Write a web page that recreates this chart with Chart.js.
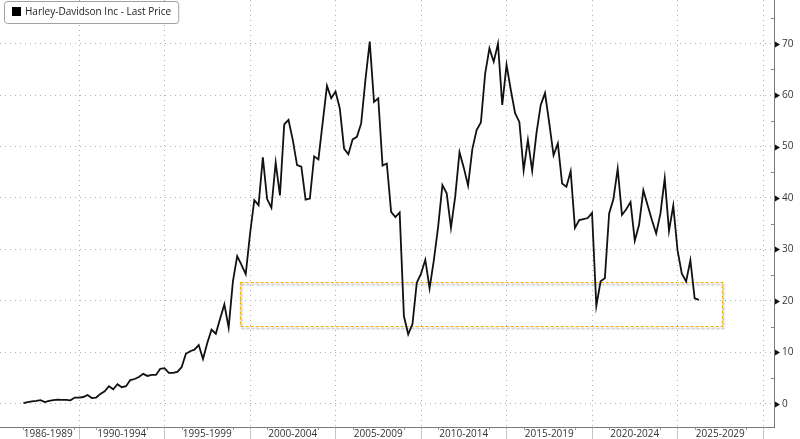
<!DOCTYPE html>
<html>
<head>
<meta charset="utf-8">
<script src="https://cdn.jsdelivr.net/npm/chart.js@4.4.1/dist/chart.umd.min.js"></script>
<style>
  html, body { margin: 0; padding: 0; background: #fff; }
  canvas { display: block; }
</style>
</head>
<body>
<canvas id="priceChart" width="800" height="439"></canvas>
<script>
const seriesName = 'Harley-Davidson Inc - Last Price';

// quarter-end prices, first point is Q3 1986
const firstQuarter = 1986.75;
const prices = [
  0.1,
  0.3, 0.45, 0.55, 0.7,      // 1987
  0.3, 0.55, 0.7, 0.8,       // 1988
  0.75, 0.75, 0.65, 1.2,     // 1989
  1.2, 1.3, 1.7, 1.1,        // 1990
  1.2, 1.9, 2.4, 3.4,        // 1991
  2.8, 3.8, 3.2, 3.4,        // 1992
  4.6, 4.8, 5.2, 5.8,        // 1993
  5.4, 5.6, 5.6, 6.8,        // 1994
  6.9, 6.0, 6.0, 6.2,        // 1995
  7.1, 9.7, 10.2, 10.5,      // 1996
  11.4, 8.7, 11.8, 14.4,     // 1997
  13.6, 16.5, 19.3, 14.8,    // 1998
  23.8, 28.7, 27.0, 25.2,    // 1999
  33.0, 39.6, 38.6, 47.9,    // 2000
  39.8, 38.1, 46.9, 40.5,    // 2001
  54.3, 55.2, 51.3, 46.4,    // 2002
  46.1, 39.7, 39.9, 48.1,    // 2003
  47.5, 54.7, 61.8, 59.4,    // 2004
  60.7, 57.4, 49.6, 48.5,    // 2005
  51.4, 51.9, 54.5, 63.0,    // 2006
  70.4, 58.7, 59.4, 46.3,    // 2007
  46.7, 37.3, 36.3, 37.2,    // 2008
  17.0, 13.5, 15.5, 23.5,    // 2009
  25.3, 28.0, 22.4, 27.9,    // 2010
  34.4, 42.5, 40.9, 34.2,    // 2011
  40.3, 48.9, 45.9, 42.4,    // 2012
  49.5, 53.2, 54.7, 64.2,    // 2013
  69.1, 66.5, 70.0, 58.1,    // 2014
  65.9, 61.0, 56.5, 54.8,    // 2015
  45.4, 51.3, 45.3, 52.6,    // 2016
  58.1, 60.4, 54.5, 48.3,    // 2017
  50.6, 42.8, 42.2, 45.2,    // 2018
  34.2, 35.7, 35.9, 36.1,    // 2019
  37.1, 19.0, 23.8, 24.4,    // 2020
  37.0, 39.8, 45.7, 36.7,    // 2021
  37.8, 39.2, 31.7, 34.8,    // 2022
  41.5, 38.6, 35.7, 33.1,    // 2023
  37.0, 43.8, 33.6, 38.5,    // 2024
  29.8, 25.3, 23.8, 27.9,    // 2025
  20.5, 20.2
];

const periodLabels = ['1986-1989', '1990-1994', '1995-1999', '2000-2004', '2005-2009',
  '2010-2014', '2015-2019', '2020-2024', '2025-2029'];
const periodCenters = [1988.2, 1992.5, 1997.5, 2002.5, 2007.5, 2012.5, 2017.5, 2022.5, 2027.5];
const periodBreaks = [1990, 1995, 2000, 2005, 2010, 2015, 2020, 2025, 2030];
const priceTicks = [0, 10, 20, 30, 40, 50, 60, 70];

// yellow dashed box (years / price)
const highlightBox = { fromYear: 1999.4, toYear: 2027.6, low: 15.1, high: 23.6 };

const FONT = '"Open Sans", sans-serif';
Chart.defaults.font.family = FONT;
Chart.defaults.font.size = 10;
Chart.defaults.color = '#333';

const points = prices.map((p, i) => ({ x: firstQuarter + i * 0.25, y: p }));

const isBreak = (v) => periodBreaks.includes(v);

const extras = {
  id: 'extras',
  beforeDatasetsDraw(chart) {
    const { ctx, scales: { x, y } } = chart;
    const x0 = Math.round(x.getPixelForValue(highlightBox.fromYear)) + 0.5;
    const x1 = Math.round(x.getPixelForValue(highlightBox.toYear)) + 0.5;
    const y0 = Math.round(y.getPixelForValue(highlightBox.high)) + 0.5;
    const y1 = Math.round(y.getPixelForValue(highlightBox.low)) + 0.5;
    ctx.save();
    ctx.setLineDash([3, 2]);
    ctx.lineWidth = 1.2;
    ctx.strokeStyle = '#f5b000';
    ctx.shadowColor = 'rgba(0,0,0,0.45)';
    ctx.shadowBlur = 2;
    ctx.shadowOffsetX = 1;
    ctx.shadowOffsetY = 2;
    ctx.strokeRect(x0, y0, x1 - x0, y1 - y0);
    ctx.restore();
  },
  afterDraw(chart) {
    const { ctx, chartArea: area, scales: { x, y } } = chart;
    ctx.save();

    // right axis: arrow markers on major ticks, small ticks in between
    ctx.fillStyle = '#111';
    priceTicks.forEach(v => {
      const py = Math.round(y.getPixelForValue(v)) + 0.5;
      ctx.beginPath();
      ctx.moveTo(area.right + 1, py - 3);
      ctx.lineTo(area.right + 6, py);
      ctx.lineTo(area.right + 1, py + 3);
      ctx.closePath();
      ctx.fill();
    });
    ctx.strokeStyle = '#888';
    ctx.lineWidth = 1;
    priceTicks.forEach(v => {
      const py = Math.round(y.getPixelForValue(v + 5)) + 0.5;
      if (py < area.top) return;
      ctx.beginPath();
      ctx.moveTo(area.right - 3, py);
      ctx.lineTo(area.right, py);
      ctx.stroke();
    });

    // little marks at the ends of each period label
    ctx.font = '10px ' + FONT;
    ctx.strokeStyle = '#999';
    periodCenters.forEach((c, i) => {
      const px = x.getPixelForValue(c);
      const w = ctx.measureText(periodLabels[i]).width;
      [px - w / 2 - 1, px + w / 2 + 1].forEach(tx => {
        const ax = Math.round(tx) + 0.5;
        ctx.beginPath();
        ctx.moveTo(ax, area.bottom + 1);
        ctx.lineTo(ax, area.bottom + 3);
        ctx.stroke();
      });
    });

    // legend box
    const tw = ctx.measureText(seriesName).width;
    ctx.beginPath();
    ctx.roundRect(4.5, 1.5, tw + 28, 22, 3);
    ctx.fillStyle = '#fff';
    ctx.fill();
    ctx.strokeStyle = '#a0a0a0';
    ctx.stroke();
    ctx.fillStyle = '#000';
    ctx.fillRect(12, 7, 9, 9);
    ctx.fillStyle = '#222';
    ctx.textBaseline = 'middle';
    ctx.textAlign = 'left';
    ctx.fillText(seriesName, 25, 12.5);
    ctx.restore();
  }
};

new Chart(document.getElementById('priceChart'), {
  type: 'line',
  data: {
    datasets: [{
      label: seriesName,
      data: points,
      borderColor: '#111',
      borderWidth: 1.8,
      pointRadius: 0,
      tension: 0
    }]
  },
  options: {
    responsive: false,
    animation: false,
    layout: { padding: 0 },
    plugins: {
      legend: { display: false },
      tooltip: { enabled: false }
    },
    scales: {
      x: {
        type: 'linear',
        min: 1985.38,
        max: 2030.64,
        afterBuildTicks: (s) => {
          s.ticks = periodCenters.concat(periodBreaks)
            .sort((a, b) => a - b)
            .map(v => ({ value: v }));
        },
        afterFit: (s) => {
          s.height = 12;
          s.paddingLeft = 0;
          s.paddingRight = 0;
        },
        grid: {
          color: (c) => isBreak(c.tick && c.tick.value) ? '#b0b0b0' : 'rgba(0,0,0,0)',
          tickColor: (c) => isBreak(c.tick && c.tick.value) ? '#c4c4c4' : 'rgba(0,0,0,0)',
          tickLength: 12,
          lineWidth: 1
        },
        border: { color: '#7a7a7a', dash: [1, 4] },
        ticks: {
          autoSkip: false,
          maxRotation: 0,
          padding: -11,
          color: '#333',
          callback: (v) => {
            const i = periodCenters.indexOf(v);
            return i >= 0 ? periodLabels[i] : '';
          }
        }
      },
      y: {
        type: 'linear',
        position: 'right',
        min: -4.53,
        max: 78.5,
        afterBuildTicks: (s) => { s.ticks = priceTicks.map(v => ({ value: v })); },
        afterFit: (s) => {
          s.width = 26;
          s.paddingTop = 0;
          s.paddingBottom = 0;
        },
        grid: { color: '#b0b0b0', drawTicks: false, lineWidth: 1 },
        border: { color: '#7a7a7a', dash: [1, 4] },
        ticks: { padding: 8, color: '#333' }
      }
    }
  },
  plugins: [extras]
});
</script>
</body>
</html>
